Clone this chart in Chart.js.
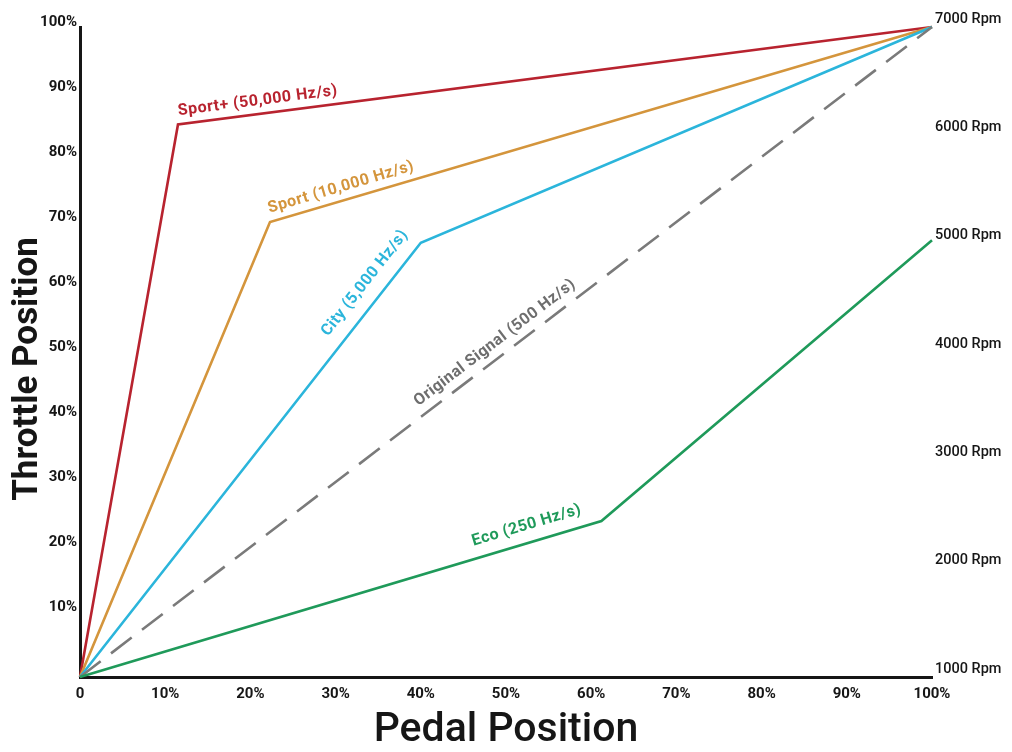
<!DOCTYPE html>
<html>
<head>
<meta charset="utf-8">
<script src="https://cdn.jsdelivr.net/npm/chart.js@4"></script>
<style>
  html, body { margin: 0; padding: 0; background: #fff; }
  #wrap { width: 1012px; height: 752px; }
</style>
</head>
<body>
<div id="wrap"><canvas id="chart" width="1012" height="752"></canvas></div>
<script>
// Pedal position (x, %) vs throttle position (y, %)
const seriesNames = ['Sport+ (50,000 Hz/s)', 'Sport (10,000 Hz/s)', 'City (5,000 Hz/s)', 'Original Signal (500 Hz/s)', 'Eco (250 Hz/s)'];
const sportPlusPedal = [0, 11.5, 100];
const sportPlusThrottle = [0, 85, 100];
const sportPedal = [0, 22.3, 100];
const sportThrottle = [0, 70, 100];
const cityPedal = [0, 40, 100];
const cityThrottle = [0, 66.8, 100];
const originalPedal = [0, 100];
const originalThrottle = [0, 100];
const ecoPedal = [0, 61.2, 100];
const ecoThrottle = [0, 24, 67.2];
const percentTicks = [0, 10, 20, 30, 40, 50, 60, 70, 80, 90, 100];
const rpmTicks = [1000, 2000, 3000, 4000, 5000, 6000, 7000];

const COLORS = {
    sportPlus: '#b8232f',
    sport: '#d4953c',
    city: '#2bb5db',
    original: '#7a7a7a',
    eco: '#1f9a5a',
    axis: '#161616'
};
const FONT = 'Roboto, "DejaVu Sans", sans-serif';

function pts(xs, ys) {
    return xs.map((x, i) => ({ x, y: ys[i] }));
}

function lineSet(label, xs, ys, color, dash) {
    return {
        label,
        data: pts(xs, ys),
        borderColor: color,
        backgroundColor: color,
        borderWidth: 2.6,
        borderDash: dash || [],
        pointRadius: 0,
        tension: 0,
        clip: false
    };
}

// label placement: dataset index, segment, fraction along segment, offset above line (px)
const labelPlacement = [
    { ds: 4, seg: 1, t: 0.108, off: 13, color: COLORS.sportPlus },
    { ds: 3, seg: 1, t: 0.113, off: 13, color: COLORS.sport },
    { ds: 2, seg: 0, t: 0.88, off: 19, color: COLORS.city },
    { ds: 1, seg: 0, t: 0.497, off: 14, color: '#6e6e6e' },
    { ds: 0, seg: 0, t: 0.866, off: 17, color: COLORS.eco }
];

const lineLabels = {
    id: 'lineLabels',
    afterDatasetsDraw(chart) {
        const { ctx } = chart;
        const xs = chart.scales.x;
        const ys = chart.scales.y;
        ctx.save();
        ctx.font = 'bold 16px ' + FONT;
        ctx.letterSpacing = '0.5px';
        ctx.textAlign = 'center';
        ctx.textBaseline = 'middle';
        labelPlacement.forEach((p) => {
            const d = chart.data.datasets[p.ds].data;
            const a = { x: xs.getPixelForValue(d[p.seg].x), y: ys.getPixelForValue(d[p.seg].y) };
            const b = { x: xs.getPixelForValue(d[p.seg + 1].x), y: ys.getPixelForValue(d[p.seg + 1].y) };
            const dx = b.x - a.x;
            const dy = b.y - a.y;
            const len = Math.hypot(dx, dy);
            const nx = dy / len;
            const ny = -dx / len;
            const cx = a.x + dx * p.t + nx * p.off;
            const cy = a.y + dy * p.t + ny * p.off;
            ctx.save();
            ctx.translate(cx, cy);
            ctx.rotate(Math.atan2(dy, dx));
            ctx.fillStyle = p.color;
            ctx.fillText(chart.data.datasets[p.ds].label, 0, 0);
            ctx.restore();
        });
        ctx.restore();
    }
};

const axisTitles = {
    id: 'axisTitles',
    afterDraw(chart) {
        const { ctx, chartArea } = chart;
        ctx.save();
        ctx.fillStyle = COLORS.axis;
        ctx.textAlign = 'center';
        ctx.textBaseline = 'middle';
        ctx.font = '500 41px ' + FONT;
        ctx.fillText('Pedal Position', (chartArea.left + chartArea.right) / 2, 731);
        ctx.translate(28, 369);
        ctx.rotate(-Math.PI / 2);
        ctx.font = 'bold 35px ' + FONT;
        ctx.fillText('Throttle Position', 0, 0);
        ctx.restore();
    }
};

new Chart(document.getElementById('chart'), {
    type: 'line',
    data: {
        datasets: [
            lineSet(seriesNames[4], ecoPedal, ecoThrottle, COLORS.eco),
            lineSet(seriesNames[3], originalPedal, originalThrottle, COLORS.original, [26, 13]),
            lineSet(seriesNames[2], cityPedal, cityThrottle, COLORS.city),
            lineSet(seriesNames[1], sportPedal, sportThrottle, COLORS.sport),
            lineSet(seriesNames[0], sportPlusPedal, sportPlusThrottle, COLORS.sportPlus)
        ]
    },
    options: {
        responsive: false,
        animation: false,
        layout: { padding: { top: 27, left: 0, right: 0, bottom: 0 } },
        plugins: {
            legend: { display: false },
            tooltip: { enabled: false }
        },
        scales: {
            x: {
                type: 'linear',
                min: 0,
                max: 100,
                afterBuildTicks: (s) => { s.ticks = percentTicks.map((v) => ({ value: v })); },
                afterFit: (s) => { s.height = 75; },
                grid: { display: false, drawTicks: false },
                border: { display: true, color: COLORS.axis, width: 3 },
                ticks: {
                    color: COLORS.axis,
                    padding: 8,
                    font: { family: FONT, size: 15, weight: 'bold' },
                    callback: (v) => (v === 0 ? '0' : v + '%')
                }
            },
            y: {
                type: 'linear',
                position: 'left',
                min: 0,
                max: 100,
                afterBuildTicks: (s) => { s.ticks = percentTicks.slice(1).map((v) => ({ value: v })); },
                afterFit: (s) => { s.width = 80; },
                grid: { display: false, drawTicks: false },
                border: { display: true, color: COLORS.axis, width: 3 },
                ticks: {
                    color: COLORS.axis,
                    padding: 3,
                    labelOffset: -5,
                    font: { family: FONT, size: 15, weight: 'bold' },
                    callback: (v) => v + '%'
                }
            },
            rpm: {
                type: 'linear',
                position: 'right',
                min: 1000,
                max: 7000,
                afterBuildTicks: (s) => { s.ticks = rpmTicks.map((v) => ({ value: v })); },
                afterFit: (s) => { s.width = 80; },
                grid: { display: false, drawTicks: false },
                border: { display: false },
                ticks: {
                    color: COLORS.axis,
                    padding: 3,
                    labelOffset: -8,
                    font: { family: FONT, size: 14.5, weight: '500' },
                    callback: (v) => v + ' Rpm'
                }
            }
        }
    },
    plugins: [lineLabels, axisTitles]
});
</script>
</body>
</html>
